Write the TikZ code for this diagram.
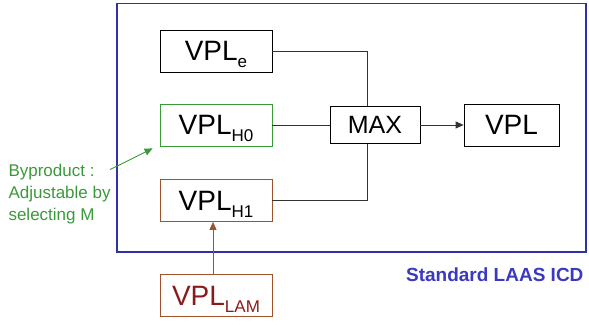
\documentclass[tikz,border=0pt]{standalone}
\usepackage{fontspec}
\setmainfont{Liberation Sans}
\usetikzlibrary{arrows.meta,positioning}
\definecolor{IcdBlue}{HTML}{3030A8}
\definecolor{IcdText}{HTML}{3A3AC0}
\definecolor{IcdGreen}{HTML}{3A9A3A}
\definecolor{IcdBrown}{HTML}{A0522D}
\definecolor{IcdRed}{HTML}{8B1A1A}
\newcommand{\vplsub}[1]{VPL\raisebox{-7pt}{\fontsize{17}{17}\selectfont #1}}

\begin{document}
\begin{tikzpicture}[x=1pt,y=1pt,
  blk/.style={draw,line width=0.8pt,minimum width=112pt,minimum height=42pt,inner sep=0pt,
    text height=20pt,text depth=0pt,font=\fontsize{28}{30}\selectfont},
  wire/.style={draw=black!80,line width=0.8pt},
  tip/.style={-{Triangle[length=8pt,width=7pt]}}]
\useasboundingbox (0,0) rectangle (589,324);
\draw[IcdBlue,line width=1.1pt] (117,72) rectangle (586,320.5);
\node[blk] (VPLe) at (216,273) {\vplsub{e}};
\node[blk,draw=IcdGreen] (VPLH0) at (216,199) {\vplsub{H0}};
\node[blk,draw=IcdBrown] (VPLH1) at (216,123.5) {\vplsub{H1}};
\node[blk,draw=IcdBrown,text=IcdRed] (VPLLAM) at (216,28.5) {\vplsub{LAM}};
\node[blk,minimum width=90pt,minimum height=37pt,text height=18pt,font=\fontsize{25}{28}\selectfont] (MAX) at (375,199) {MAX};
\node[blk,minimum width=95pt] (VPL) at (511.5,199) {VPL};
\node[IcdGreen,align=left,anchor=west,font=\fontsize{17}{22}\selectfont] (bytext) at (5,130) {Byproduct :\\Adjustable by\\selecting M};
\node[IcdText,anchor=east,font=\bfseries\fontsize{19}{22}\selectfont] (icd) at (587,49) {Standard LAAS ICD};
% connectors
\draw[wire] (VPLe.east) -| ([xshift=-8pt]MAX.north);
\draw[wire] (VPLH0.east) -- (MAX.west);
\draw[wire] (VPLH1.east) -| ([xshift=-8pt]MAX.south);
\draw[wire,tip] (MAX.east) -- (VPL.west);
\draw[IcdBrown,line width=0.9pt,tip] ([xshift=-3pt]VPLLAM.north) -- ([xshift=-3pt]VPLH1.south);
\draw[IcdGreen,line width=0.9pt,tip] ([xshift=-4pt,yshift=-9pt]bytext.north east) -- ([xshift=-7pt,yshift=-2pt]VPLH0.south west);
\end{tikzpicture}
\end{document}
